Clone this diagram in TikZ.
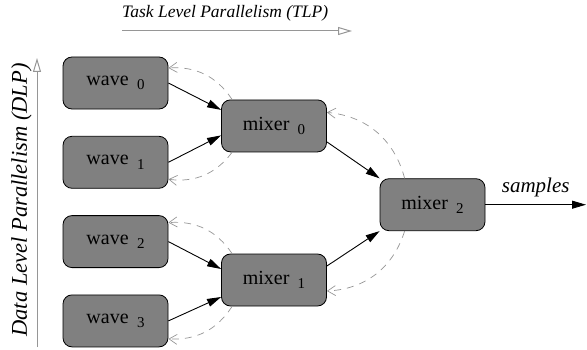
\documentclass[tikz,border=0pt]{standalone}
\usepackage{fontspec}
\setmainfont{Liberation Serif}
\newfontfamily\labelfont{Liberation Serif}
\usepackage{tikz}
\usetikzlibrary{arrows.meta, positioning, calc}
\definecolor{boxfill}{RGB}{128,128,128}
\definecolor{feedback}{RGB}{150,150,150}
\newcommand{\idx}[1]{\,\raisebox{-0.5ex}{\fontsize{15}{15}\selectfont #1}}

\begin{document}
\begin{tikzpicture}[x=1pt, y=1pt, node distance=26.5pt,
    every node/.style={font=\labelfont\fontsize{20}{24}\selectfont},
    stage/.style={draw, line width=0.8pt, rectangle, rounded corners=9pt, fill=boxfill,
                  minimum width=105pt, minimum height=52pt, inner sep=0pt},
    flow/.style={line width=0.9pt, -{Triangle[length=14pt, width=8pt]}},
    back/.style={feedback, dash pattern=on 7pt off 6pt, line width=0.7pt,
                 -{Straight Barb[length=8pt, width=10pt]}},
    axis/.style={feedback, line width=1pt, -{Triangle[open, length=14pt, width=8pt]}}]
    \useasboundingbox (0,0) rectangle (587,349);

    % wave generators
    \node[stage] (w0) at (115.5,266) {wave \idx{0}};
    \node[stage, below=of w0] (w1) {wave \idx{1}};
    \node[stage, below=of w1] (w2) {wave \idx{2}};
    \node[stage, below=of w2] (w3) {wave \idx{3}};

    % mixer tree
    \node[stage] (m0) at ($(w0)!.5!(w1)+(158.5,-3.25)$) {mixer \idx{0}};
    \node[stage] (m1) at ($(w2)!.5!(w3)+(158.5,1.25)$) {mixer \idx{1}};
    \node[stage] (m2) at ($(m0)!.5!(m1)+(158.5,-1.75)$) {mixer \idx{2}};
    \coordinate (sink) at (586,0 |- m2.east);

    \draw[flow] (w0.east) -- ([yshift=16pt]m0.west);
    \draw[flow] (w1.east) -- ([yshift=-9.5pt]m0.west);
    \draw[flow] (w2.east) -- ([yshift=11pt]m1.west);
    \draw[flow] (w3.east) -- ([yshift=-17pt]m1.west);
    \draw[flow] ([yshift=-16pt]m0.east) -- (m2.north west);
    \draw[flow] ([yshift=14pt]m1.east) -- (m2.south west);
    \draw[flow] (m2.east) -- (sink)
        node[midway, above=7pt, inner sep=0pt, font=\labelfont\fontsize{21}{24}\selectfont\itshape] {samples};

    % requests going back up the tree
    \draw[back] ([xshift=11pt]m0.north west) to[bend right=30] ([yshift=15pt]w0.east);
    \draw[back] ([xshift=11pt]m0.south west) to[bend left=30] ([yshift=-17pt]w1.east);
    \draw[back] ([xshift=11pt]m1.north west) to[bend right=30] ([yshift=19pt]w2.east);
    \draw[back] ([xshift=11pt]m1.south west) to[bend left=30] ([yshift=-18pt]w3.east);
    \draw[back] ([xshift=25pt]m2.north west) to[bend right=35] ([yshift=13.5pt]m0.east);
    \draw[back] ([xshift=25pt]m2.south west) to[bend left=35] ([yshift=-11pt]m1.east);

    % axes
    \node[anchor=base west, inner sep=0pt, font=\labelfont\fontsize{17.5}{20}\selectfont\itshape]
        (tlp) at (122,331) {Task Level Parallelism (TLP)};
    \coordinate (tlpA) at (122,318);
    \coordinate (tlpB) at (352,318);
    \draw[axis] (tlpA) -- (tlpB);

    \node[rotate=90, anchor=base, inner sep=0pt, font=\labelfont\fontsize{22.5}{26}\selectfont\itshape]
        (dlp) at (27,149) {Data Level Parallelism (DLP)};
    \coordinate (dlpA) at (37,2);
    \coordinate (dlpB) at (37,291);
    \draw[axis] (dlpA) -- (dlpB);
\end{tikzpicture}
\end{document}
